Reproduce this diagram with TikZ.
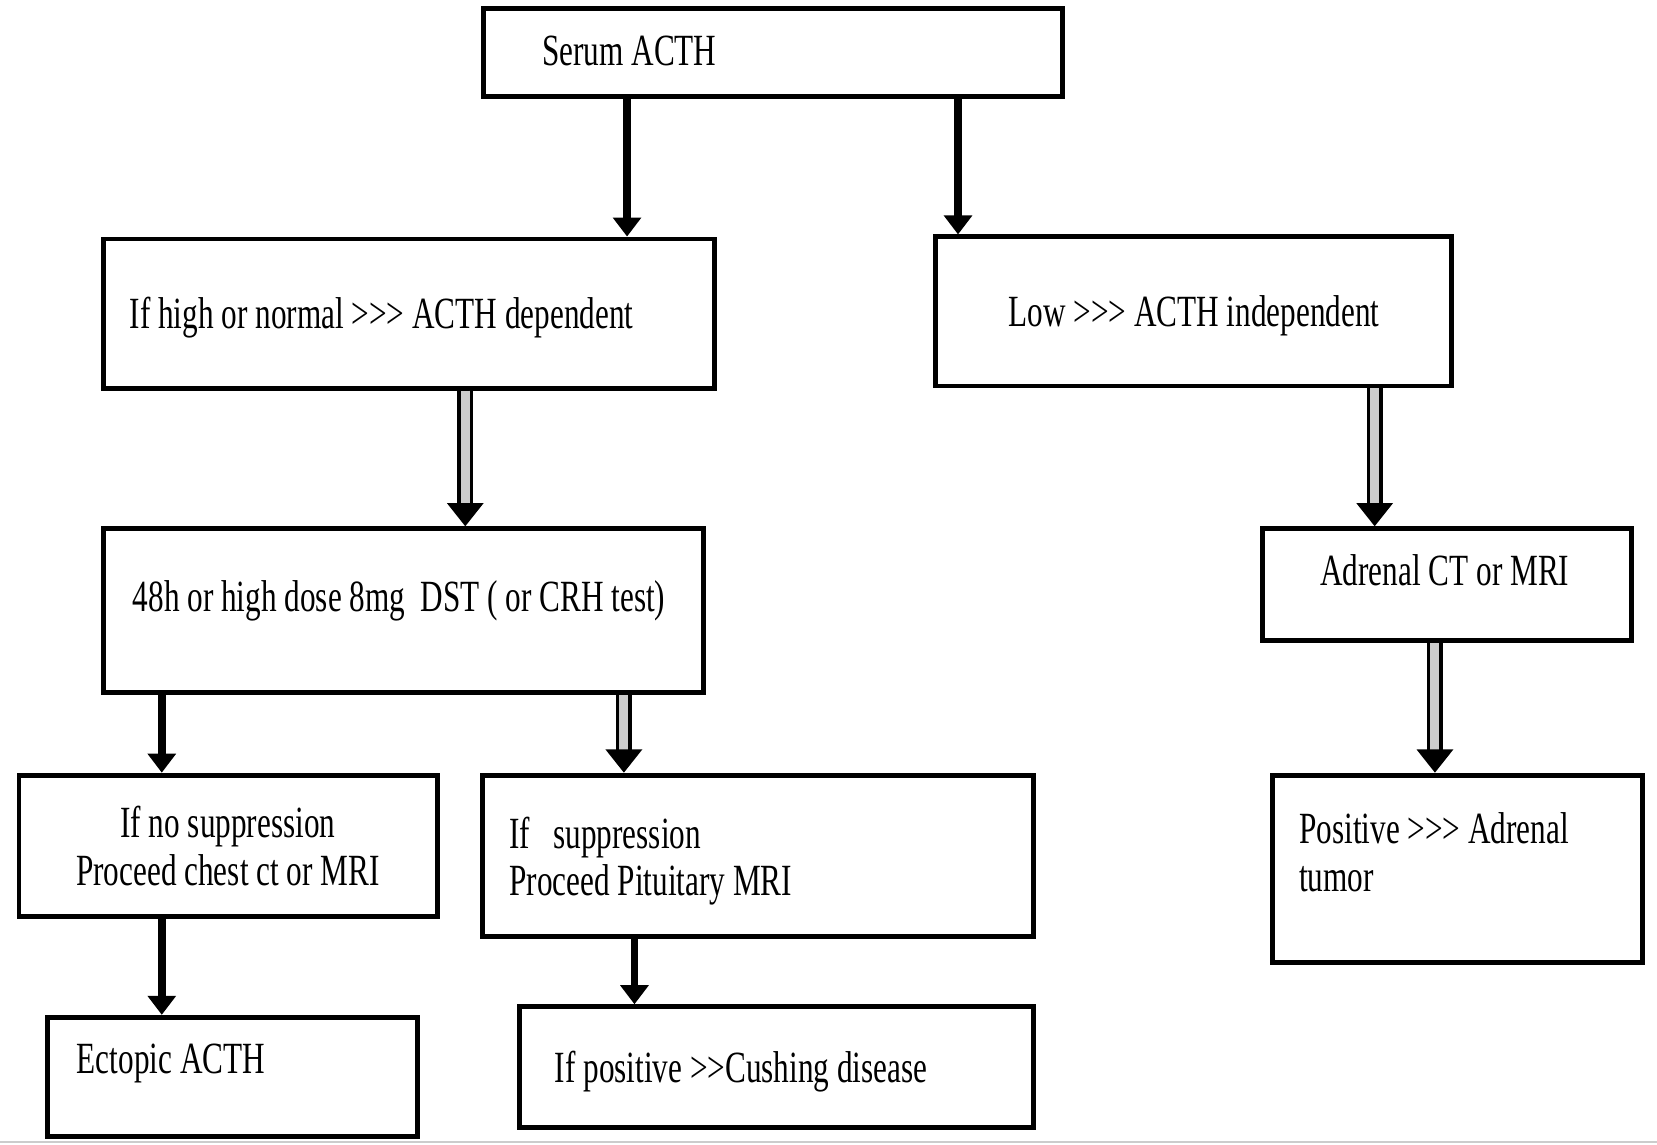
\documentclass[tikz,border=0pt]{standalone}
\usepackage{fontspec}
\setmainfont{Liberation Serif}[FakeStretch=0.70,Ligatures=TeXOff]
\usetikzlibrary{positioning,arrows.meta}

\tikzset{
	box/.style 2 args={draw,line width=1.3pt,inner sep=0pt,minimum width=#1,minimum height=#2},
	txt/.style={font=\fontsize{12}{12.8}\selectfont,inner sep=0pt,anchor=base west,align=left},
	sarrow/.style={line width=2pt,-{Triangle[length=0.18cm,width=0.26cm]}},
	harrow/.style={line width=1pt,double=gray!40,double distance=2.4pt,-{Triangle[length=0.22cm,width=0.34cm]}}
}

\begin{document}
\begin{tikzpicture}
		\useasboundingbox (0,0) rectangle (15.67,-10.82);
		% boxes
		\node[box={5.48cm}{0.83cm}] (serum) at (7.31,-0.495) {};
		\node[box={5.78cm}{1.41cm}] (dep) at (3.87,-2.965) {};
		\node[box={4.88cm}{1.41cm}] (indep) at (11.29,-2.945) {};
		\node[box={5.67cm}{1.55cm}] (dst) at (3.815,-5.775) {};
		\node[box={3.49cm}{1.06cm}] (adrct) at (13.685,-5.53) {};
		\node[box={3.96cm}{1.34cm}] (nosupp) at (2.16,-8.00) {};
		\node[box={5.21cm}{1.53cm}] (supp) at (7.165,-8.095) {};
		\node[box={3.50cm}{1.77cm}] (tumor) at (13.78,-8.215) {};
		\node[box={3.50cm}{1.13cm}] (ectopic) at (2.20,-10.185) {};
		\node[box={4.86cm}{1.14cm}] (cushing) at (7.34,-10.09) {};
		% texts
		\node[txt] (serum-t) at (5.12,-0.615) {Serum ACTH};
		\node[txt] (dep-t) at (1.22,-3.11) {If high or normal >>> ACTH dependent};
		\node[txt] (indep-t) at (9.53,-3.09) {Low >>> ACTH independent};
		\node[txt] (dst-t) at (1.25,-5.78) {48h or high dose 8mg\ \ DST ( or CRH test)};
		\node[txt] (adrct-t) at (12.48,-5.54) {Adrenal CT or MRI};
		\node[txt,anchor=base,align=center] (nosupp-t) at (2.155,-8.37) {If no suppression\\Proceed chest ct or MRI};
		\node[txt] (supp-t) at (4.81,-8.47) {If\ \ \ suppression\\Proceed Pituitary MRI};
		\node[txt] (tumor-t) at (12.28,-8.43) {Positive >>> Adrenal\\tumor};
		\node[txt] (ectopic-t) at (0.72,-10.15) {Ectopic ACTH};
		\node[txt] (cushing-t) at (5.24,-10.24) {If positive >>Cushing disease};
		% connectors
		\foreach \x/\a/\b in {5.93/serum/dep,9.06/serum/indep,1.53/dst/nosupp,1.53/nosupp/ectopic,6.00/supp/cushing}
			\draw[sarrow] (\x,0 |- \a.south) -- (\x,0 |- \b.north);
		\foreach \x/\a/\b in {4.40/dep/dst,13.00/indep/adrct,13.57/adrct/tumor,5.90/dst/supp}
			\draw[harrow] (\x,0 |- \a.south) -- (\x,0 |- \b.north);
		\draw[gray!40,line width=0.6pt] (0,-10.80) -- (15.67,-10.80);
	\end{tikzpicture}
\end{document}
